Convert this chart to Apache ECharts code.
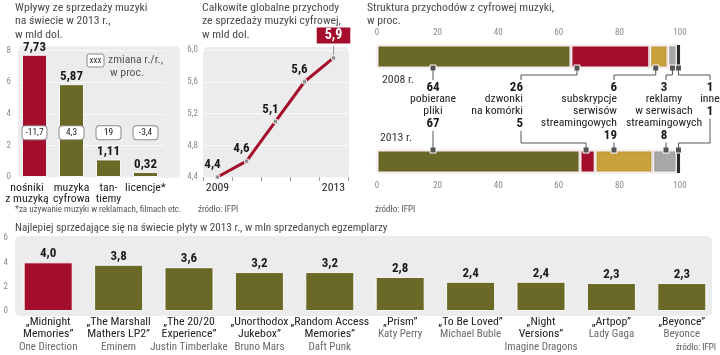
<!DOCTYPE html>
<html><head><meta charset="utf-8">
<script src="https://cdn.jsdelivr.net/npm/echarts@6/dist/echarts.min.js"></script>
<style>html,body{margin:0;padding:0;background:#fff}#c{width:720px;height:355px}</style>
</head><body><div id="c"></div>
<script>
// ---------- DATA ----------
// Panel 1: revenue 2013, bn USD
const revCats = ['nośniki\nz muzyką', 'muzyka\ncyfrowa', 'tan-\ntiemy', 'licencje*'];
const revValues = [7.73, 5.87, 1.11, 0.32];
const revChange = [-11.7, 4.3, 19, -3.4];
// Panel 2: global digital revenue, bn USD
const digYears = ['2009', '2010', '2011', '2012', '2013'];
const digValues = [4.4, 4.6, 5.1, 5.6, 5.9];
// Panel 3: structure of digital revenue, %
const structYears = ['2008 r.', '2013 r.'];
const structCats = ['pobierane\npliki', 'dzwonki\nna komórki', 'subskrypcje\nserwisów\nstreamingowych', 'reklamy\nw serwisach\nstreamingowych', 'inne'];
const struct2008 = [64, 26, 6, 3, 1];
const struct2013 = [67, 5, 19, 8, 1];
// Panel 4: best-selling albums 2013, mln copies
const albumTitles = ['„Midnight\nMemories”', '„The Marshall\nMathers LP2”', '„The 20/20\nExperience”', '„Unorthodox\nJukebox”', '„Random Access\nMemories”', '„Prism”', '„To Be Loved”', '„Night\nVersions”', '„Artpop”', '„Beyonce”'];
const albumArtists = ['One Direction', 'Eminem', 'Justin Timberlake', 'Bruno Mars', 'Daft Punk', 'Katy Perry', 'Michael Buble', 'Imagine Dragons', 'Lady Gaga', 'Beyonce'];
const albumSales = [4.0, 3.8, 3.6, 3.2, 3.2, 2.8, 2.4, 2.4, 2.3, 2.3];

// ---------- FONTS ----------
const mctx = document.createElement('canvas').getContext('2d');
function tw(text, fam, size, weight) { mctx.font = (weight || 'normal') + ' ' + size + 'px "' + fam + '", sans-serif'; return mctx.measureText(text).width; }
const SAMPLE = 'streamingowych Wpływy sprzedaży 7,73 Justin';
const cands = ['Liberation Sans Narrow', 'DejaVu Sans Condensed', 'Roboto Condensed', 'Lato', 'Roboto', 'Inter', 'Open Sans', 'Noto Sans', 'Liberation Sans', 'DejaVu Sans'];
let FONT = 'Roboto', best = 1e9;
cands.forEach(f => { const w = tw(SAMPLE, f, 40); if (w < best - 0.5) { best = w; FONT = f; } });
const clamp = (v, a, b) => Math.max(a, Math.min(b, v));
const fit1 = (text, target, weight) => 13 * target / tw(text, FONT, 13, weight);
const fitAvg = (pairs, weight, lo, hi) => clamp(pairs.reduce((s, p) => s + fit1(p[0], p[1], weight), 0) / pairs.length, lo, hi);
const TITLE = fitAvg([['Wpływy ze sprzedaży muzyki', 133], ['Całkowite globalne przychody', 135], ['Struktura przychodów z cyfrowej muzyki,', 190]], 'normal', 10, 14);
const LEG = fitAvg([['zmiana r./r.,', 55]], 'normal', 10, 14);
const TITLE4 = fitAvg([['Najlepiej sprzedające się na świecie płyty w 2013 r., w mln sprzedanych egzemplarzy', 373]], 'normal', 10, 14);
const CAT = fitAvg([['„Midnight', 44], ['Memories”', 48], ['„The Marshall', 61], ['Experience”', 53], ['z muzyką', 52], ['streamingowych', 74], ['nośniki', 33]], 'normal', 11, 14.5);
const ART = fitAvg([['One Direction', 53], ['Eminem', 36], ['Justin Timberlake', 73]], 'normal', 11, 14.5);
const BOLD = clamp(fit1('7,73', 21, 'bold'), 13, 17);
const BOX = clamp(fit1('-11,7', 18, 'normal'), 9, 12);

const RED = '#a40e2c', OLIVE = '#6b6928', GOLD = '#c8a13a', GRAY = '#a8a8a8', DARK = '#2a2a2a', BG = '#ececec';
const structColors = [OLIVE, RED, GOLD, GRAY, DARK];
const comma = (v, d) => (d === undefined ? String(v) : v.toFixed(d)).replace('.', ',');

const chart = echarts.init(document.getElementById('c'));

const axisLbl = { fontFamily: FONT, fontSize: 9, color: '#8a8a8a' };
const hidden = { show: false };

const series = [];
series.push({
  type: 'bar', xAxisIndex: 0, yAxisIndex: 0, barWidth: 25, silent: true,
  data: revValues.map((v, i) => ({ value: v, itemStyle: { color: i === 0 ? RED : OLIVE } })),
  itemStyle: { borderColor: 'rgba(255,255,255,0.9)', borderWidth: 1 },
  label: { show: true, position: 'top', distance: 1, formatter: p => comma(p.value, 2), fontFamily: FONT, fontWeight: 'bold', fontSize: BOLD, color: '#1a1a1a' }
});
const CHANGE_LEVEL = 2.8;
series.push({
  type: 'scatter', xAxisIndex: 0, yAxisIndex: 0, symbolSize: 0, silent: true, z: 5,
  itemStyle: { opacity: 1 },
  data: revChange.map((c, i) => [i, CHANGE_LEVEL]),
  label: { show: true, position: 'inside', formatter: p => comma(revChange[p.dataIndex]),
    backgroundColor: '#fff', borderColor: '#8a8a8a', borderWidth: 1, borderRadius: 3,
    width: 18, align: 'center', padding: [2, 3], fontFamily: FONT, fontSize: BOX, color: '#222' }
});
series.push({
  type: 'line', xAxisIndex: 1, yAxisIndex: 1, silent: true,
  lineStyle: { color: RED, width: 3 }, symbol: 'rect', symbolSize: 4,
  itemStyle: { color: '#8c8c8c', borderColor: '#e0e0e0', borderWidth: 1 },
  data: digValues.map((v, i) => i === digValues.length - 1 ? {
    value: v, label: { show: true, position: 'top', distance: 12, offset: [0, 0], formatter: () => comma(v, 1),
      backgroundColor: RED, color: '#fff', fontFamily: FONT, fontWeight: 'bold', fontSize: BOLD + 1, padding: [1, 8, 0, 8], lineHeight: 15 }
  } : v),
  label: { show: true, position: 'top', distance: 3, offset: [-5, 0], formatter: p => comma(p.value, 1), fontFamily: FONT, fontWeight: 'bold', fontSize: BOLD, color: '#1a1a1a' },
  z: 3
});
[[struct2008, 2, 's08'], [struct2013, 3, 's13']].forEach(([arr, gi, st]) => {
  arr.forEach((v, i) => {
    series.push({
      type: 'bar', name: structCats[i], xAxisIndex: gi, yAxisIndex: gi, stack: st, barWidth: 23, silent: true,
      data: [v],
      itemStyle: { color: structColors[i], borderColor: i === 4 ? 'rgba(255,255,255,0)' : '#fbeeee', borderWidth: i === 4 ? 0 : 1.5,
        shadowColor: 'rgba(0,0,0,0.18)', shadowBlur: 2 }
    });
  });
});
series.push({
  type: 'bar', xAxisIndex: 4, yAxisIndex: 4, barWidth: 49, silent: true,
  data: albumSales.map((v, i) => ({ value: v, itemStyle: { color: i === 0 ? RED : OLIVE } })),
  itemStyle: { borderColor: 'rgba(255,255,255,0.9)', borderWidth: 1 },
  label: { show: true, position: 'top', distance: 2, formatter: p => comma(p.value, 1), fontFamily: FONT, fontWeight: 'bold', fontSize: BOLD, color: '#1a1a1a' }
});

const option = {
  animation: false,
  grid: [
    { left: 16, top: 50.5, width: 148, height: 126.5 },
    { left: 203, top: 50, width: 145, height: 127 },
    { left: 377, top: 45, width: 303, height: 23 },
    { left: 377, top: 150, width: 303, height: 23 },
    { left: 13, top: 238, width: 704, height: 73 }
  ],
  xAxis: [
    { gridIndex: 0, type: 'category', axisLine: hidden, axisTick: hidden,
      data: revCats.map((c, i) => i === 0 ? { value: c, textStyle: { padding: [0, 15, 0, 0] } } : c),
      axisLabel: { interval: 0, margin: 5, fontFamily: FONT, fontSize: CAT, lineHeight: 11.7, color: '#222' } },
    { gridIndex: 1, type: 'category', data: digYears, axisLine: hidden,
      axisTick: { show: true, length: 4, interval: 0, lineStyle: { color: '#999' } },
      axisLabel: { interval: 0, margin: 5, fontFamily: FONT, fontSize: CAT, color: '#222',
        formatter: (v, i) => (i === 0 || i === digYears.length - 1) ? v : '' } },
    { gridIndex: 2, type: 'value', min: 0, max: 100, interval: 20, position: 'top', axisLine: hidden, axisTick: hidden, splitLine: hidden,
      axisLabel: Object.assign({ margin: 8 }, axisLbl) },
    { gridIndex: 3, type: 'value', min: 0, max: 100, interval: 20, position: 'bottom', axisLine: hidden, axisTick: hidden, splitLine: hidden,
      axisLabel: Object.assign({ margin: 8 }, axisLbl) },
    { gridIndex: 4, type: 'category', data: albumTitles, axisLine: hidden, axisTick: hidden,
      axisLabel: { interval: 0, margin: 5,
        formatter: (v, i) => v.split('\n').map(s => '{t|' + s + '}').join('\n') + '\n{a|' + albumArtists[i] + '}',
        rich: { t: { fontFamily: FONT, fontSize: CAT, lineHeight: 12.3, color: '#222' },
                a: { fontFamily: FONT, fontSize: ART, lineHeight: 12.3, color: '#6a6a6a' } } } }
  ],
  yAxis: [
    { gridIndex: 0, type: 'value', min: 0, max: 8, interval: 2, axisLine: hidden, axisTick: hidden,
      splitLine: { lineStyle: { color: '#fafafa' } }, axisLabel: Object.assign({ margin: 5 }, axisLbl) },
    { gridIndex: 1, type: 'value', min: 4.4, max: 6.0, interval: 0.4, axisLine: hidden, axisTick: hidden,
      splitLine: { lineStyle: { color: '#fafafa' } }, axisLabel: Object.assign({ margin: 5, formatter: v => comma(v, 1) }, axisLbl) },
    { gridIndex: 2, type: 'category', data: [structYears[0]], show: false },
    { gridIndex: 3, type: 'category', data: [structYears[1]], show: false },
    { gridIndex: 4, type: 'value', min: 0, max: 6, interval: 2, axisLine: hidden, axisTick: hidden,
      splitLine: hidden, axisLabel: Object.assign({ margin: 5 }, axisLbl) }
  ],
  series
};
chart.setOption(option);

// ---------- ANNOTATIONS (positions derived via the chart's scales) ----------
const T = (text, x, y, o) => Object.assign({ type: 'text', z: 100, silent: true,
  style: Object.assign({ text, x, y, fill: '#4a4a4a', fontFamily: FONT, fontSize: CAT, lineHeight: 13.5,
    align: 'left', verticalAlign: 'middle', textAlign: 'left', textVerticalAlign: 'middle' }, o || {}) });
const L = (pts, color) => ({ type: 'polyline', z: 60, silent: true, shape: { points: pts }, style: { stroke: color || '#555', lineWidth: 1, fill: null } });
const bgRect = (x, y, w, h) => ({ type: 'rect', z: -1, silent: true, shape: { x, y, width: w, height: h, r: 5 }, style: { fill: BG } });

const g = [];
g.push(bgRect(18, 46, 162, 132));
g.push(bgRect(203, 47, 146, 131));
g.push(bgRect(15, 236, 697, 80));

['Wpływy ze sprzedaży muzyki', 'na świecie w 2013 r.,', 'w mld dol.'].forEach((s, i) => g.push(T(s, 15, 8 + i * 13.5, { fontSize: TITLE })));
['Całkowite globalne przychody', 'ze sprzedaży muzyki cyfrowej,', 'w mld dol.'].forEach((s, i) => g.push(T(s, 202, 8 + i * 13.5, { fontSize: TITLE })));
['Struktura przychodów z cyfrowej muzyki,', 'w proc.'].forEach((s, i) => g.push(T(s, 367, 8 + i * 13.5, { fontSize: TITLE })));
g.push(T('Najlepiej sprzedające się na świecie płyty w 2013 r., w mln sprzedanych egzemplarzy', 15, 228, { fontSize: TITLE4 }));
g.push(T('*za używanie muzyki w reklamach, filmach etc.', 15, 210, { fontSize: 9, fill: '#555' }));
g.push(T('źródło: IFPI', 198, 210, { fontSize: 9, fill: '#555' }));
g.push(T('źródło: IFPI', 375, 210, { fontSize: 9, fill: '#555' }));
g.push(T('źródło: IFPI', 716, 348, { fontSize: 9, fill: '#555', align: 'right', textAlign: 'right' }));

g.push({ type: 'rect', z: 50, silent: true, shape: { x: 87, y: 54, width: 17, height: 13, r: 2 }, style: { fill: '#fff', stroke: '#8a8a8a', lineWidth: 1 } });
g.push(T('xxx', 95.5, 60.5, { fontSize: 9, fill: '#333', align: 'center', textAlign: 'center' }));
g.push(T('zmiana r./r.,', 108, 60.5, { fill: '#555', fontSize: LEG }));
g.push(T('w proc.', 110, 73.5, { fill: '#555', fontSize: LEG }));

const lastPt = chart.convertToPixel({ xAxisIndex: 1, yAxisIndex: 1 }, [digValues.length - 1, digValues[digValues.length - 1]]);
g.push(L([[lastPt[0], lastPt[1] - 3], [lastPt[0], lastPt[1] - 12]], '#999'));

g.push(T(structYears[0], 382, 80, { fill: '#333' }));
g.push(T(structYears[1], 380, 138, { fill: '#333' }));

const cols = [
  { x: 433, lx: 433, align: 'center' },
  { x: 523, lx: 521, align: 'right' },
  { x: 617, lx: 614, align: 'right' },
  { x: 664, lx: 666, align: 'center' },
  { x: 710, lx: 710, align: 'center' }
];
const top08 = chart.convertToPixel({ xAxisIndex: 2, yAxisIndex: 2 }, [0, 0])[1] + 11.5;
const top13 = chart.convertToPixel({ xAxisIndex: 3, yAxisIndex: 3 }, [0, 0])[1] - 11.5;
function markerValues(arr, gi) {
  let s = 0;
  return arr.map((v, i) => {
    const st = s, en = s + v; s = en;
    const m = Math.min(2, v / 2);
    const lv = chart.convertFromPixel({ xAxisIndex: gi, yAxisIndex: gi }, [cols[i].lx, 0])[0];
    return Math.max(st + m, Math.min(en - m, lv));
  });
}
const m08 = markerValues(struct2008, 2);
const m13 = markerValues(struct2013, 3);
const mk08 = m08.map(v => chart.convertToPixel({ xAxisIndex: 2, yAxisIndex: 2 }, [v, 0])[0]);
const mk13 = m13.map(v => chart.convertToPixel({ xAxisIndex: 3, yAxisIndex: 3 }, [v, 0])[0]);

structCats.forEach((name, i) => {
  const c = cols[i];
  const lines = name.split('\n');
  const o = { align: c.align, textAlign: c.align };
  g.push(T(String(struct2008[i]), c.x, 88, Object.assign({ fontSize: BOLD, fontWeight: 'bold', fill: '#1a1a1a' }, o)));
  lines.forEach((ln, k) => g.push(T(ln, c.x, 99.5 + k * 11.7, Object.assign({ fill: '#222' }, o))));
  const vy = 100 + lines.length * 11.7 + (lines.length > 1 ? 0.5 : 0);
  g.push(T(String(struct2013[i]), c.x, vy, Object.assign({ fontSize: BOLD, fontWeight: 'bold', fill: '#1a1a1a' }, o)));
  const mx = mk08[i];
  if (Math.abs(mx - c.lx) < 1.5) g.push(L([[mx, top08], [mx, 80]]));
  else g.push(L([[mx, top08], [mx, 75], [c.lx, 75], [c.lx, 80]]));
  const nx = mk13[i];
  const sy = vy + 7;
  if (Math.abs(nx - c.lx) < 1.5) g.push(L([[nx, sy], [nx, top13]]));
  else g.push(L([[c.lx, sy], [c.lx, 143], [nx, 143], [nx, top13]]));
});

chart.setOption({
  graphic: g,
  series: series.concat([
    { type: 'scatter', xAxisIndex: 2, yAxisIndex: 2, symbol: 'rect', symbolSize: 6, symbolOffset: [0, 11.5], z: 10, silent: true,
      itemStyle: { color: '#555', borderColor: '#fff', borderWidth: 1, opacity: 1 }, data: m08.map(v => [v, 0]) },
    { type: 'scatter', xAxisIndex: 3, yAxisIndex: 3, symbol: 'rect', symbolSize: 6, symbolOffset: [0, -11.5], z: 10, silent: true,
      itemStyle: { color: '#555', borderColor: '#fff', borderWidth: 1, opacity: 1 }, data: m13.map(v => [v, 0]) }
  ])
});
</script>
</body></html>
